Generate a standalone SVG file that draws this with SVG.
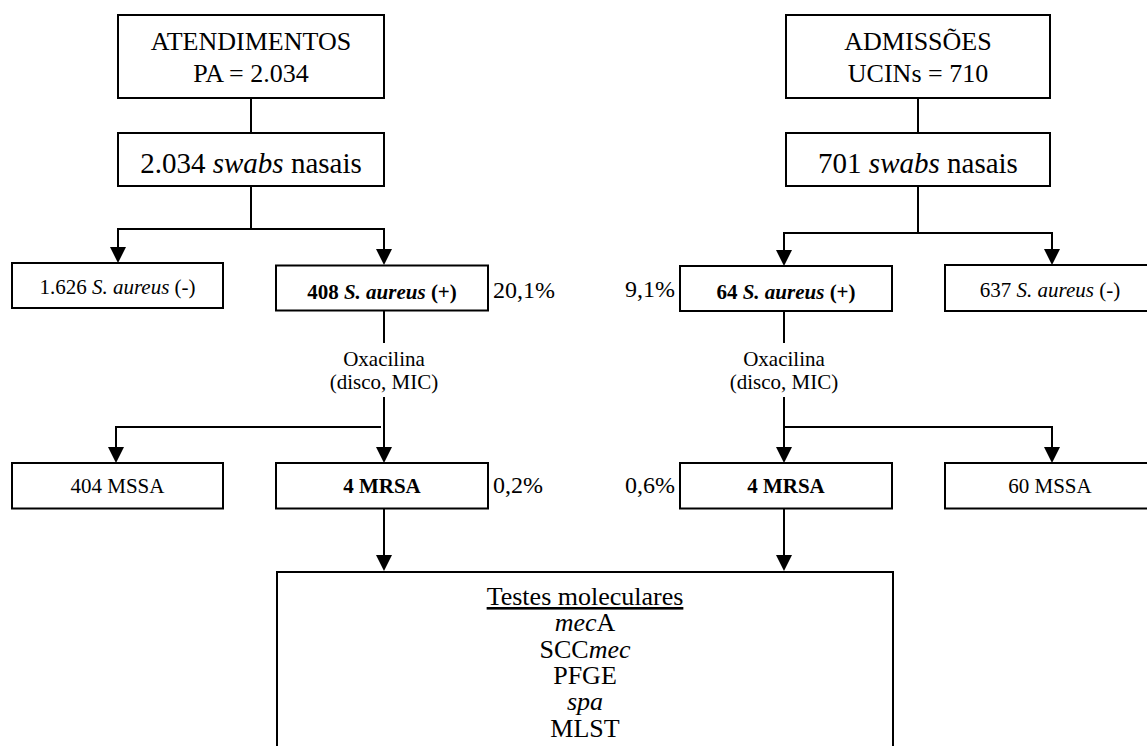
<svg xmlns="http://www.w3.org/2000/svg" width="1147" height="746" viewBox="0 0 1147 746" font-family="'Liberation Serif', 'Times New Roman', 'DejaVu Serif', serif">
<style>
.box{fill:#fff;stroke:#000;stroke-width:2}
.c{fill:none;stroke:#000;stroke-width:2}
.t26{font-size:26px;text-anchor:middle}
.t29{font-size:29px;text-anchor:middle}
.t21{font-size:21px;text-anchor:middle}
.b{font-weight:bold}
.pct{font-size:24px}
.oxa{font-size:21px;text-anchor:middle}
</style>
<defs>
<marker id="ah" markerUnits="userSpaceOnUse" markerWidth="16" markerHeight="16" refX="8" refY="8" orient="auto">
<path d="M0,0 L16,8 L0,16 z" fill="#000"/>
</marker>
</defs>
<rect width="1147" height="746" fill="#fff"/>

<g id="connectors">
<line class="c" x1="251" y1="98" x2="251" y2="133"/>
<line class="c" x1="251" y1="186" x2="251" y2="229"/>
<path class="c" d="M118,229 H384"/>
<path class="c" d="M118,228 V255" marker-end="url(#ah)"/>
<path class="c" d="M384,228 V257" marker-end="url(#ah)"/>
<line class="c" x1="918" y1="98" x2="918" y2="133"/>
<line class="c" x1="918" y1="186" x2="918" y2="233"/>
<path class="c" d="M784,233 H1052"/>
<path class="c" d="M784,232 V258" marker-end="url(#ah)"/>
<path class="c" d="M1052,232 V257" marker-end="url(#ah)"/>
<line class="c" x1="384" y1="310" x2="384" y2="343"/>
<line class="c" x1="384" y1="397" x2="384" y2="455" marker-end="url(#ah)"/>
<path class="c" d="M381,427 H116 V455" marker-end="url(#ah)"/>
<line class="c" x1="784" y1="311" x2="784" y2="343"/>
<line class="c" x1="784" y1="397" x2="784" y2="455" marker-end="url(#ah)"/>
<path class="c" d="M784,427 H1052 V455" marker-end="url(#ah)"/>
<line class="c" x1="384" y1="508" x2="384" y2="563" marker-end="url(#ah)"/>
<line class="c" x1="784" y1="508" x2="784" y2="563" marker-end="url(#ah)"/>
</g>

<g id="oxa-left">
<text class="oxa" x="384" y="366">Oxacilina</text>
<text class="oxa" x="384" y="389">(disco, MIC)</text>
</g>
<g id="oxa-right">
<text class="oxa" x="784" y="366">Oxacilina</text>
<text class="oxa" x="784" y="389">(disco, MIC)</text>
</g>

<g id="atendimentos">
<rect class="box" x="118" y="15" width="266" height="83"/>
<text class="t26" x="251" y="50">ATENDIMENTOS</text>
<text class="t26" x="251" y="82">PA = 2.034</text>
</g>
<g id="admissoes">
<rect class="box" x="786" y="15" width="264" height="83"/>
<text class="t26" x="918" y="50">ADMISSÕES</text>
<text class="t26" x="918" y="82">UCINs = 710</text>
</g>
<g id="swabs-left">
<rect class="box" x="118" y="133" width="266" height="53"/>
<text class="t29" x="251" y="173">2.034 <tspan font-style="italic">swabs</tspan> nasais</text>
</g>
<g id="swabs-right">
<rect class="box" x="786" y="133" width="264" height="53"/>
<text class="t29" x="918" y="173">701 <tspan font-style="italic">swabs</tspan> nasais</text>
</g>

<g id="sa-neg-left">
<rect class="box" x="12" y="263" width="211" height="45"/>
<text class="t21" x="117.5" y="294">1.626 <tspan font-style="italic">S. aureus</tspan> (-)</text>
</g>
<g id="sa-pos-left">
<rect class="box" x="276" y="265.5" width="212" height="45"/>
<text class="t21 b" x="382" y="299">408 <tspan font-style="italic">S. aureus</tspan> (+)</text>
<text class="pct" x="493" y="298">20,1%</text>
</g>
<g id="sa-pos-right">
<rect class="box" x="680" y="266" width="212" height="45"/>
<text class="t21 b" x="786" y="299">64 <tspan font-style="italic">S. aureus</tspan> (+)</text>
<text class="pct" x="675" y="297" text-anchor="end">9,1%</text>
</g>
<g id="sa-neg-right">
<rect class="box" x="945" y="265" width="212" height="46"/>
<text class="t21" x="1050" y="297">637 <tspan font-style="italic">S. aureus</tspan> (-)</text>
</g>

<g id="mssa-left">
<rect class="box" x="12" y="463" width="211" height="45.5"/>
<text class="t21" x="117.5" y="493">404 MSSA</text>
</g>
<g id="mrsa-left">
<rect class="box" x="276" y="463" width="212" height="45.5"/>
<text class="t21 b" x="382" y="493">4 MRSA</text>
<text class="pct" x="493" y="493">0,2%</text>
</g>
<g id="mrsa-right">
<rect class="box" x="680" y="463" width="212" height="45.5"/>
<text class="t21 b" x="786" y="493">4 MRSA</text>
<text class="pct" x="675" y="493" text-anchor="end">0,6%</text>
</g>
<g id="mssa-right">
<rect class="box" x="945" y="463" width="212" height="45.5"/>
<text class="t21" x="1050" y="493">60 MSSA</text>
</g>

<g id="testes">
<rect class="box" x="277" y="572" width="616" height="200"/>
<text class="t26" x="585" y="605" text-decoration="underline">Testes moleculares</text>
<text class="t26" x="585" y="631"><tspan font-style="italic">mec</tspan>A</text>
<text class="t26" x="585" y="658">SCC<tspan font-style="italic">mec</tspan></text>
<text class="t26" x="585" y="684">PFGE</text>
<text class="t26" x="585" y="710" font-style="italic">spa</text>
<text class="t26" x="585" y="737">MLST</text>
</g>
</svg>
